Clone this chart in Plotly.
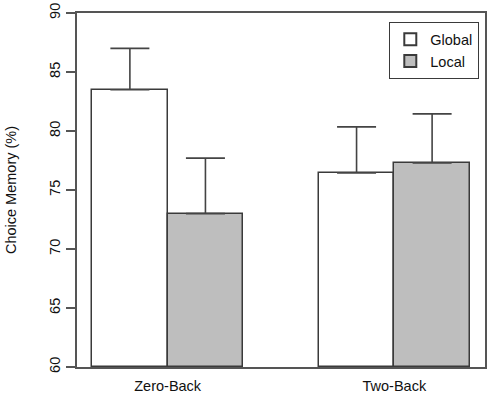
import plotly.graph_objects as go

groups = ["Zero-Back", "Two-Back"]
series = ["Global", "Local"]
global_vals = [83.5, 76.45]
local_vals = [73.0, 77.3]
global_err = [3.5, 3.9]
local_err = [4.7, 4.15]
y_ticks = [60, 65, 70, 75, 80, 85, 90]

# R barplot(beside=TRUE) layout: group g occupies [1+3g, 3+3g]
group_centers = [2 + 3 * i for i in range(len(groups))]
global_x = [c - 0.5 for c in group_centers]
local_x = [c + 0.5 for c in group_centers]

line_col = "#3a3a3a"
font = dict(family="Liberation Sans, Arial, sans-serif", size=14.5, color="#111111")

fig = go.Figure()
for name, xs, vals, errs, fill in [
    ("Global", global_x, global_vals, global_err, "#ffffff"),
    ("Local", local_x, local_vals, local_err, "#bebebe"),
]:
    fig.add_trace(go.Bar(
        name=name, x=xs, y=[v - 60 for v in vals], base=60, width=1,
        marker=dict(color=fill, line=dict(color=line_col, width=1.5)),
        error_y=dict(type="data", symmetric=False, array=errs,
                     arrayminus=[0] * len(errs), color="#444444",
                     thickness=1.6, width=19.5),
    ))

fig.update_layout(
    width=491, height=396,
    margin=dict(l=77, r=6, t=13, b=29, autoexpand=False),
    paper_bgcolor="white", plot_bgcolor="white",
    font=font, bargap=0, barmode="overlay",
    showlegend=True,
    legend=dict(x=0.7647, y=0.9746, xanchor="left", yanchor="top",
                bordercolor="#3a3a3a", borderwidth=1.3, bgcolor="white",
                font=font, tracegroupgap=0, itemsizing="constant"),
    xaxis=dict(range=[0.8, 6.2], tickvals=group_centers, ticktext=groups,
               showgrid=False, zeroline=False, showline=True, mirror=True,
               linecolor="#555555", linewidth=1.5, ticks="", ticklen=0,
               tickfont=font, automargin=False, ticklabelstandoff=5),
    yaxis=dict(range=[60, 90], tickvals=y_ticks, showgrid=False, zeroline=False,
               showline=True, mirror=True, linecolor="#555555", linewidth=1.5,
               ticks="outside", ticklen=9, tickwidth=1.5, tickcolor="#555555",
               tickangle=-90, tickfont=font, automargin=False,
               title=dict(text="Choice Memory (%)", font=font, standoff=27)),
)

fig.write_html("out.html", config={"displayModeBar": False},
               post_script="document.body.style.margin='0';document.body.style.overflow='hidden';")
